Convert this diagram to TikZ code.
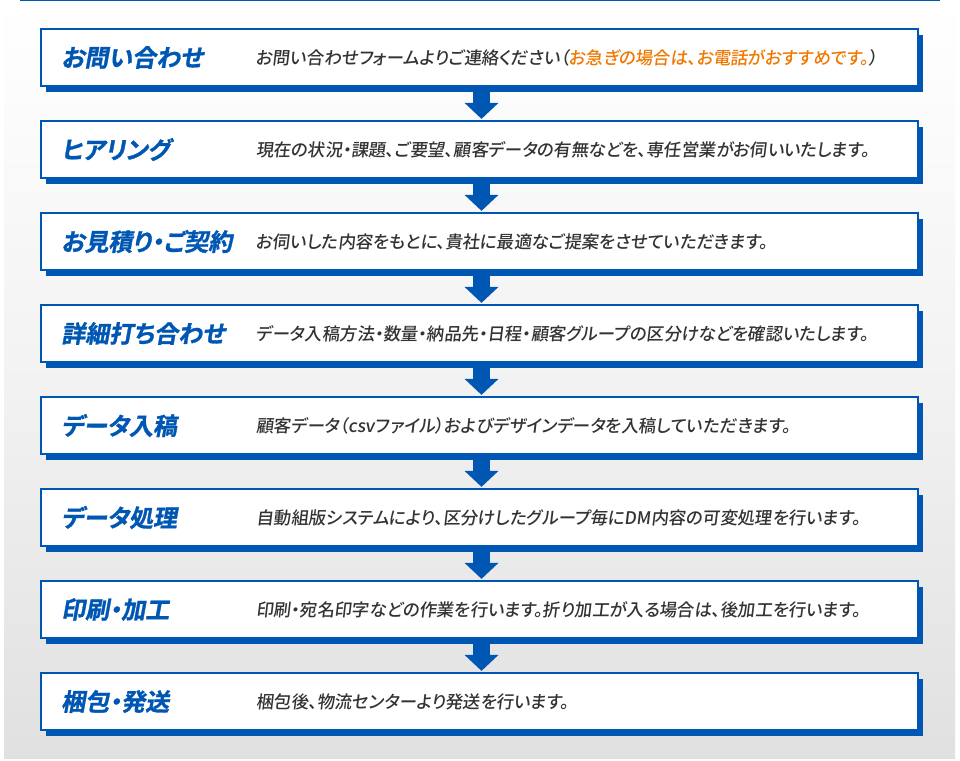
\documentclass[tikz,border=0pt]{standalone}
\usepackage{fontspec}
\newfontfamily\jpb[FakeSlant=0.18,FakeBold=1.2,RawFeature=+palt]{Noto Sans CJK JP Bold}
\newfontfamily\jpm[FakeSlant=0.12,RawFeature=+palt]{Noto Sans CJK JP Medium}
\usetikzlibrary{shadows,arrows.meta}
\definecolor{fblue}{HTML}{0057B3}
\definecolor{ftext}{HTML}{333333}
\definecolor{forange}{HTML}{F07800}
\begin{document}
\begin{tikzpicture}[x=1pt,y=-1pt,
  stepbox/.style={draw=fblue,line width=2.2pt,fill=white,minimum width=877pt,minimum height=57pt,inner sep=0pt,
    drop shadow={shadow xshift=5pt,shadow yshift=-6pt,fill=fblue,opacity=1}},
  ttl/.style={anchor=west,text=fblue,font=\jpb\fontsize{24}{25}\selectfont,inner sep=0pt},
  dsc/.style={anchor=west,text=ftext,font=\jpm\fontsize{17.4}{18}\selectfont,inner sep=0pt},
  flow/.style={draw=fblue,line width=17pt,-{Triangle[width=33pt,length=16pt]}}]
\useasboundingbox (0,0) rectangle (960,760);
\fill[white] (0,0) rectangle (960,760);
\shade[top color=white,bottom color=black!12,middle color=black!5] (4,0) rectangle (955,758);
\draw[fblue,line width=1pt] (20,0.5) -- (940,0.5);
\foreach \i/\t/\d in {1/お問い合わせ/{お問い合わせフォームよりご連絡ください（\textcolor{forange}{お急ぎの場合は、お電話がおすすめです。}）},
  2/ヒアリング/{現在の状況・課題、ご要望、顧客データの有無などを、専任営業がお伺いいたします。},
  3/お見積り・ご契約/{お伺いした内容をもとに、貴社に最適なご提案をさせていただきます。},
  4/詳細打ち合わせ/{データ入稿方法・数量・納品先・日程・顧客グループの区分けなどを確認いたします。},
  5/データ入稿/{顧客データ（csvファイル）およびデザインデータを入稿していただきます。},
  6/データ処理/{自動組版システムにより、区分けしたグループ毎にDM内容の可変処理を行います。},
  7/印刷・加工/{印刷・宛名印字などの作業を行います。折り加工が入る場合は、後加工を行います。},
  8/梱包・発送/{梱包後、物流センターより発送を行います。}}{
  \node[stepbox] (b\i) at (479.5,{57.5+92*(\i-1)}) {};
  \node[ttl] (t\i) at (61,{57.5+92*(\i-1)}) {\t};
  \node[dsc] (d\i) at (256,{57.5+92*(\i-1)}) {\d};
}
\foreach \i [evaluate=\i as \j using int(\i+1)] in {1,...,7}{
  \draw[flow] ([xshift=2pt,yshift=-2pt]b\i.south) -- ([xshift=2pt,yshift=1pt]b\j.north);
}
\end{tikzpicture}
\end{document}
